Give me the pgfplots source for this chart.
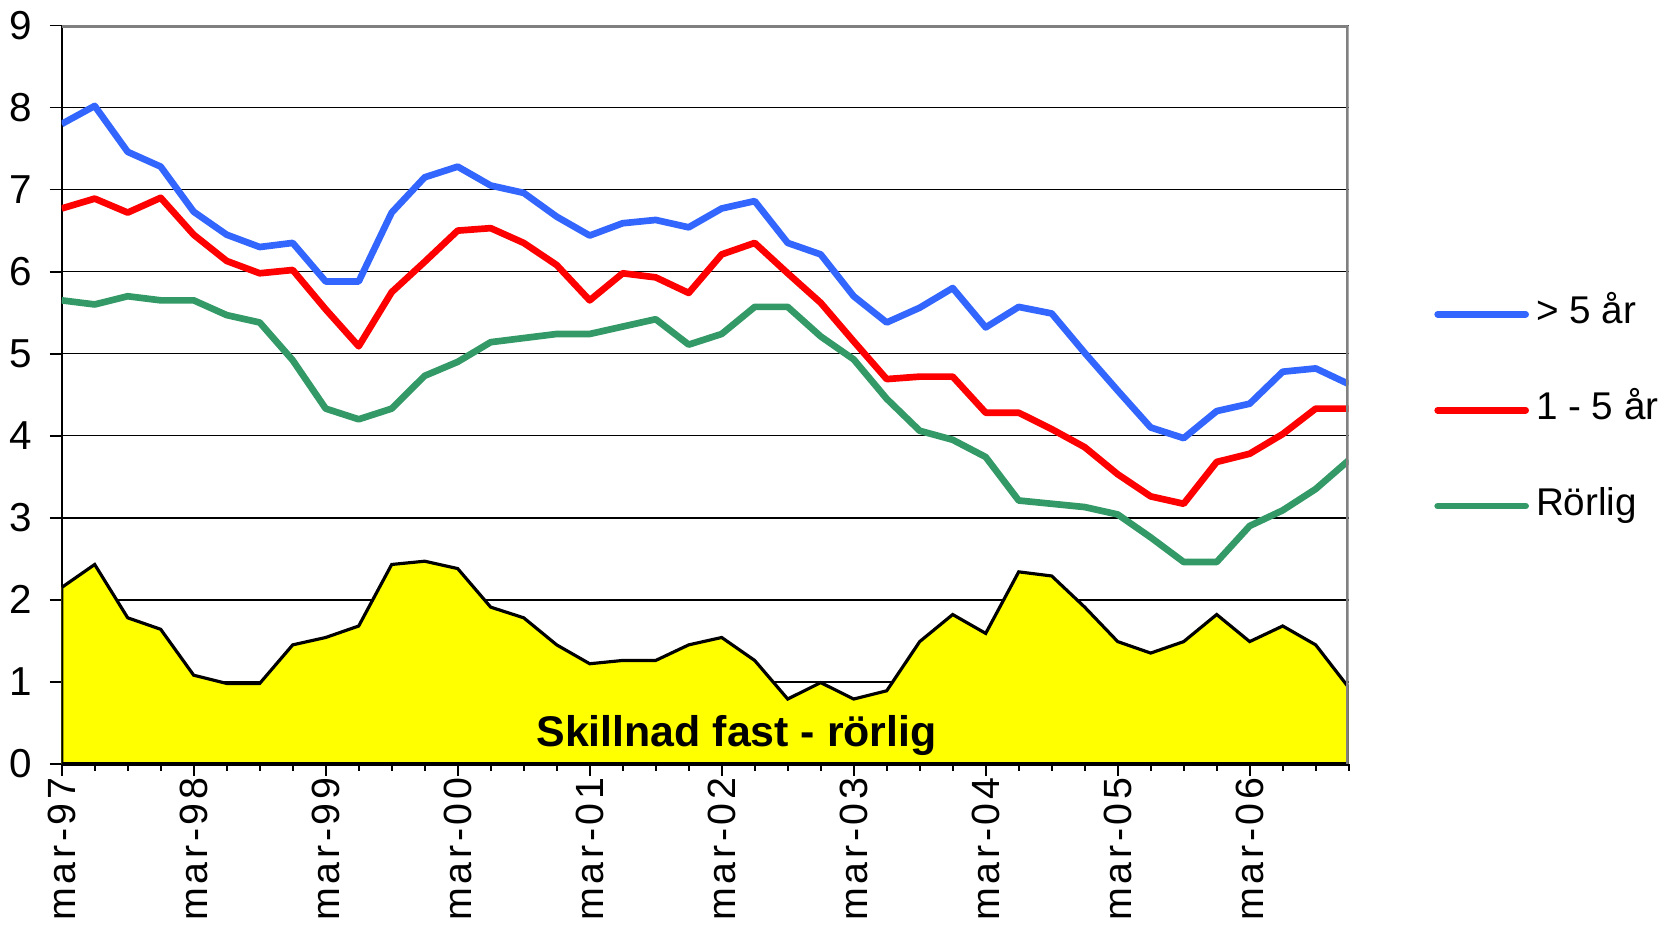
\documentclass[border=0pt]{standalone}
\usepackage{fontspec}
\setmainfont{Liberation Sans}
\newfontfamily\spacedfont[LetterSpace=9]{Liberation Sans}
\usepackage{pgfplots}
\usepackage{pgfplotstable}
\pgfplotsset{compat=1.18}
\definecolor{lblue}{HTML}{3366FF}
\definecolor{lred}{HTML}{FF0000}
\definecolor{lgreen}{HTML}{339966}
\definecolor{areayellow}{HTML}{FFFF00}
\definecolor{bordergray}{HTML}{808080}

% q: quarter index from mar-97
\pgfplotstableread{
q  lang  mellan  rorlig  diff
0  7.80  6.77  5.65  2.15
1  8.02  6.89  5.60  2.43
2  7.46  6.72  5.70  1.78
3  7.28  6.90  5.65  1.64
4  6.73  6.45  5.65  1.08
5  6.45  6.13  5.47  0.98
6  6.30  5.98  5.38  0.98
7  6.35  6.02  4.92  1.45
8  5.88  5.54  4.33  1.54
9  5.88  5.09  4.20  1.68
10 6.72  5.75  4.33  2.43
11 7.15  6.12  4.73  2.47
12 7.28  6.50  4.90  2.38
13 7.05  6.53  5.14  1.91
14 6.96  6.35  5.19  1.78
15 6.67  6.08  5.24  1.45
16 6.44  5.65  5.24  1.22
17 6.59  5.98  5.33  1.26
18 6.63  5.93  5.42  1.26
19 6.54  5.74  5.11  1.45
20 6.77  6.21  5.24  1.54
21 6.86  6.35  5.57  1.26
22 6.35  5.98  5.57  0.79
23 6.21  5.62  5.21  0.99
24 5.70  5.15  4.93  0.79
25 5.38  4.69  4.45  0.89
26 5.56  4.72  4.06  1.49
27 5.80  4.72  3.95  1.82
28 5.32  4.28  3.74  1.59
29 5.57  4.28  3.21  2.34
30 5.49  4.08  3.17  2.29
31 5.01  3.86  3.13  1.91
32 4.55  3.53  3.04  1.49
33 4.10  3.26  2.76  1.35
34 3.97  3.17  2.46  1.49
35 4.30  3.68  2.46  1.82
36 4.39  3.78  2.90  1.49
37 4.78  4.02  3.09  1.68
38 4.82  4.33  3.35  1.45
39 4.63  4.33  3.70  0.93
}\rates

\begin{document}
\begin{tikzpicture}
\begin{axis}[
  scale only axis,width=12.87cm,height=7.383cm,
  xmin=0,xmax=39,ymin=0,ymax=9,
  axis x line*=bottom,axis y line*=left,
  axis line style={-},
  x axis line style={line width=1pt,black},
  y axis line style={line width=0.6pt,black},
  xtick={0,4,...,36},
  xticklabels={mar-97,mar-98,mar-99,mar-00,mar-01,mar-02,mar-03,mar-04,mar-05,mar-06},
  minor xtick={0,...,39},
  ytick={0,...,9},
  tick align=outside,
  major tick length=0.12cm,minor tick length=0.07cm,
  every tick/.style={black,line width=0.5pt},
  ymajorgrids=true,
  grid style={black,line width=0.45pt},
  /pgf/number format/assume math mode=true,
  yticklabel style={font=\fontsize{11.5}{13}\selectfont,xshift=-0.5mm},
  xticklabel style={font=\fontsize{11.2}{13}\spacedfont,rotate=90,anchor=east,inner xsep=0.4pt},
  legend cell align=left,
  legend style={draw=none,fill=none,inner sep=0pt,
    at={(rel axis cs:1.066,0.479)},anchor=west,
    font=\fontsize{11}{13}\selectfont,
    row sep=5.9mm,
    nodes={inner ysep=0pt,text height=8pt,text depth=2.5pt}},
  legend image code/.code={\draw[#1,line cap=round] (0cm,0cm) -- (0.88cm,0cm);},
]
\addplot[fill=areayellow,draw=black,line width=0.9pt,forget plot] table[x=q,y=diff] {\rates} \closedcycle;
\addplot[lblue,line width=1.9pt,line join=round] table[x=q,y=lang] {\rates};
\addlegendentry{> 5 år}
\addplot[lred,line width=1.9pt,line join=round] table[x=q,y=mellan] {\rates};
\addlegendentry{1 - 5 år}
\addplot[lgreen,line width=1.9pt,line join=round] table[x=q,y=rorlig] {\rates};
\addlegendentry{Rörlig}
\draw[bordergray,line width=1.3pt] (rel axis cs:0,1) -- (rel axis cs:1,1) -- (rel axis cs:1,0);
\node[font=\fontsize{12.2}{14}\selectfont\bfseries] at (axis cs:20.45,0.35) {Skillnad fast - rörlig};
\end{axis}
\pgfresetboundingbox
\path[use as bounding box] (-0.617cm,-1.63cm) rectangle (16.063cm,7.638cm);
\end{tikzpicture}
\end{document}
